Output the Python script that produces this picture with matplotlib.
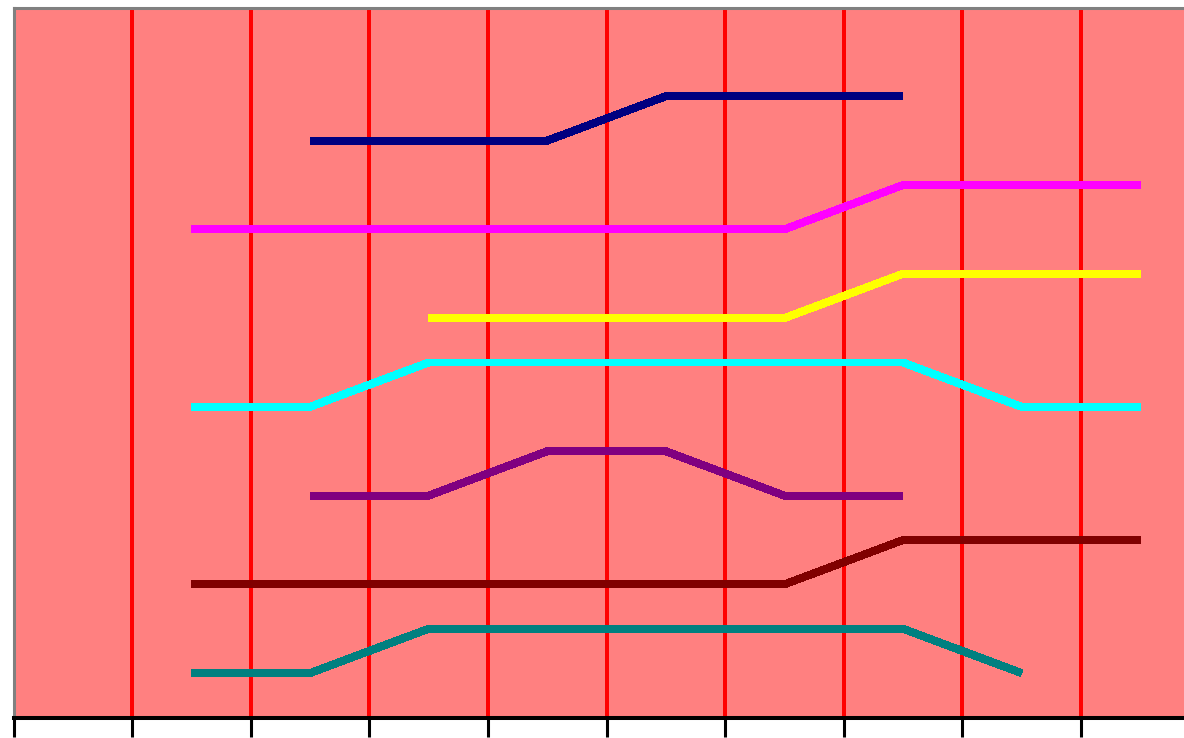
import numpy as np
import matplotlib
matplotlib.use("Agg")
import matplotlib.pyplot as plt

nan = np.nan

# ten categories, values (y axis 0..8)
categories = list(range(10))
navy = [nan, nan, 6.5, 6.5, 6.5, 7, 7, 7, nan, nan]
magenta = [nan, 5.5, 5.5, 5.5, 5.5, 5.5, 5.5, 6, 6, 6]
yellow = [nan, nan, nan, 4.5, 4.5, 4.5, 4.5, 5, 5, 5]
cyan = [nan, 3.5, 3.5, 4, 4, 4, 4, 4, 3.5, 3.5]
purple = [nan, nan, 2.5, 2.5, 3, 3, 2.5, 2.5, nan, nan]
darkred = [nan, 1.5, 1.5, 1.5, 1.5, 1.5, 1.5, 2, 2, 2]
teal = [nan, 0.5, 0.5, 1, 1, 1, 1, 1, 0.5, nan]

series = [
    (navy, "#000080"),
    (magenta, "#FF00FF"),
    (yellow, "#FFFF00"),
    (cyan, "#00FFFF"),
    (purple, "#800080"),
    (darkred, "#800000"),
    (teal, "#008080"),
]

W, H = 1184, 738
fig = plt.figure(figsize=(W / 100, H / 100), dpi=100)
fig.patch.set_facecolor("white")

# axes box in pixels: left 13.5, right ~1199.5 (cropped off), top 7.5, bottom 717.5
left, right, top, bottom = 13.5, 1199.5, 7.5, 717.5
ax = fig.add_axes([left / W, (H - bottom) / H, (right - left) / W, (bottom - top) / H])
ax.set_facecolor("#FF8080")

x = np.array(categories) + 0.5
for vals, col in series:
    ax.plot(x, vals, color=col, lw=5.0, antialiased=False, solid_capstyle="butt",
            solid_joinstyle="miter", zorder=3)

ax.set_xlim(0, 10)
ax.set_ylim(0, 8)

# vertical red gridlines at each integer
ax.set_xticks(np.arange(0, 11))
ax.set_xticklabels([])
ax.set_yticks([])
ax.xaxis.grid(True, color="#FF0000", lw=2.6, antialiased=False)
ax.set_axisbelow(True)

ax.tick_params(axis="x", direction="out", length=13.5, width=2.2, color="black")

for side in ["left", "top", "right"]:
    ax.spines[side].set_color("#808080")
    ax.spines[side].set_linewidth(2.2)
ax.spines["bottom"].set_color("black")
ax.spines["bottom"].set_linewidth(2.9)

fig.savefig("out.png", dpi=100)
